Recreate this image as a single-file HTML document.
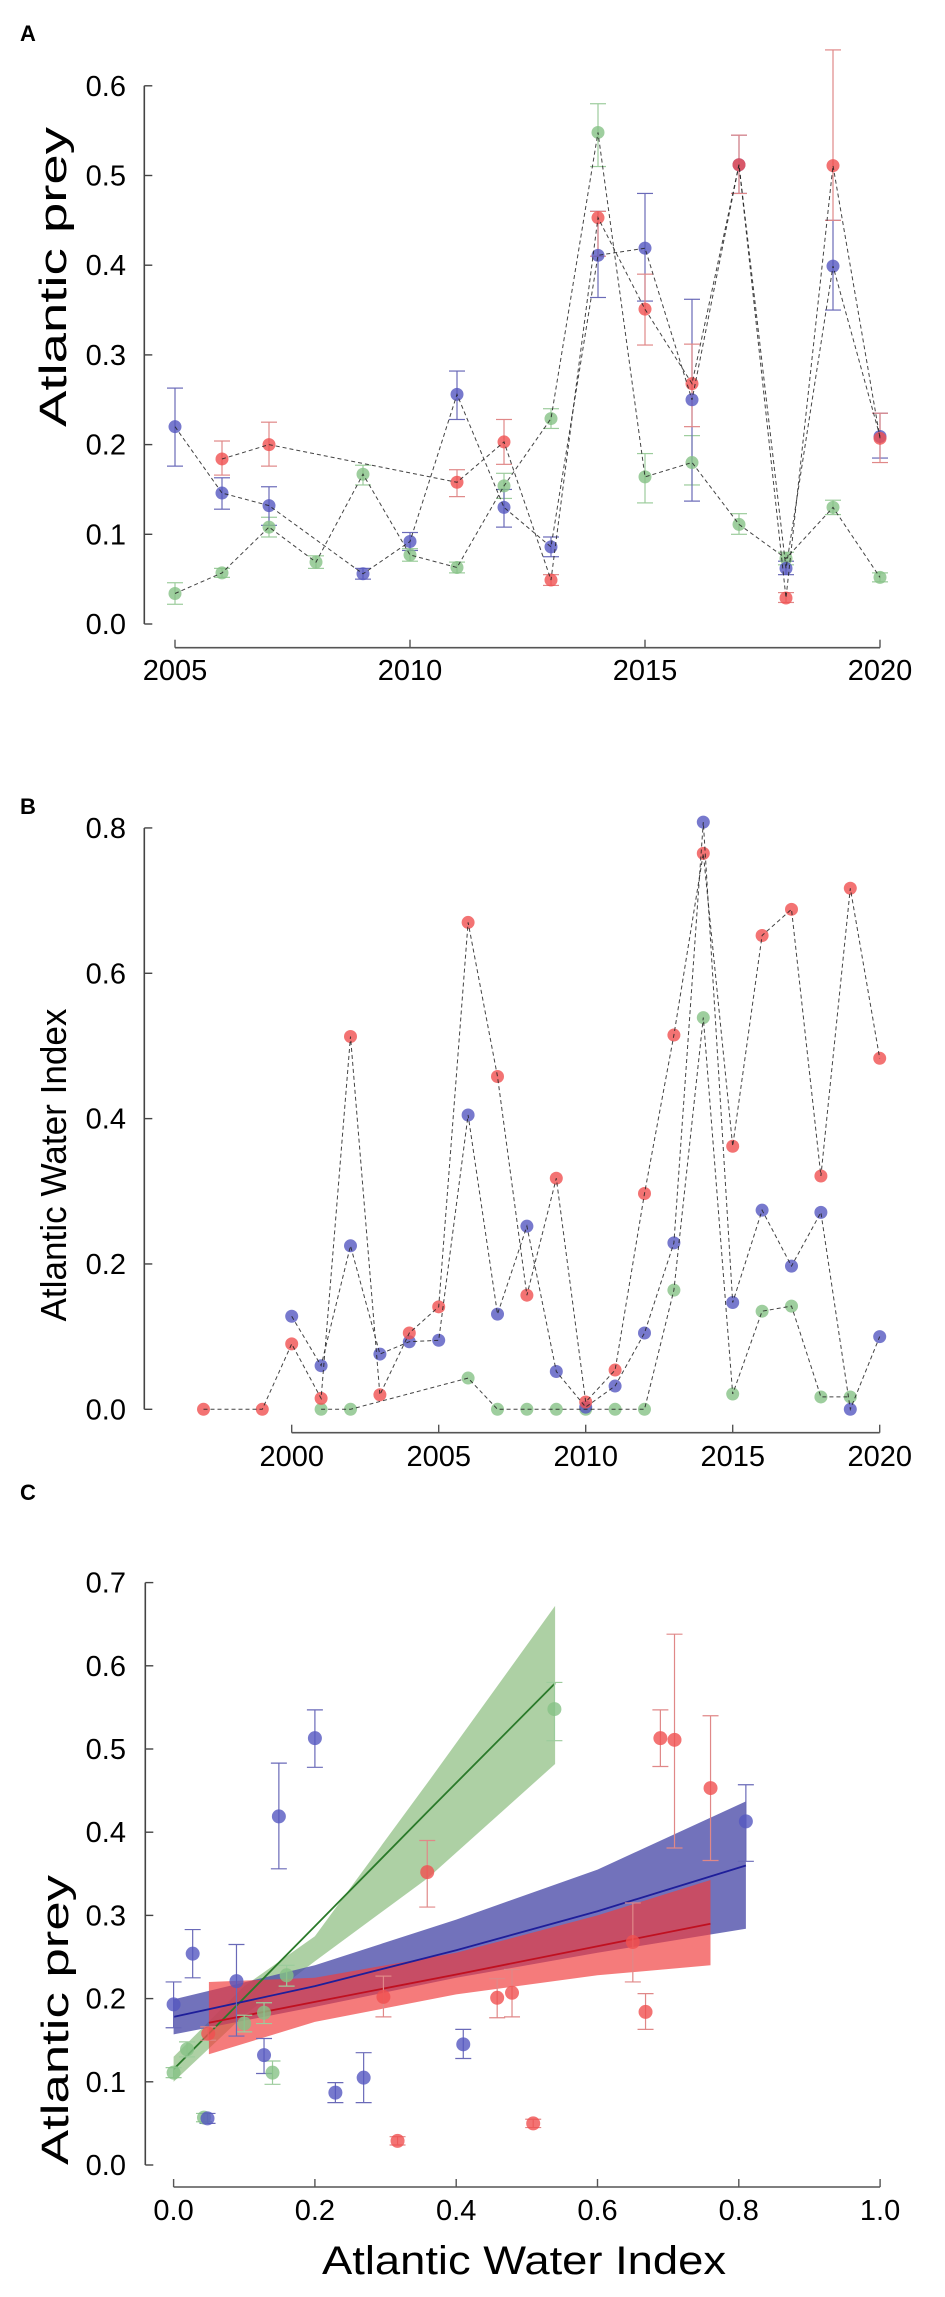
<!DOCTYPE html>
<html><head><meta charset="utf-8">
<style>
html,body{margin:0;padding:0;background:#fff;}
svg{display:block;font-family:"Liberation Sans",Arial,sans-serif;}
</style></head>
<body>
<svg id="fig" width="945" height="2297" viewBox="0 0 945 2297" xmlns="http://www.w3.org/2000/svg">
<text x="20" y="41" font-size="22" font-weight="bold">A</text>
<text x="20" y="814" font-size="22" font-weight="bold">B</text>
<text x="20" y="1500" font-size="22" font-weight="bold">C</text>
<text transform="translate(66,277) rotate(-90)" text-anchor="middle" font-size="38" textLength="300" lengthAdjust="spacingAndGlyphs">Atlantic prey</text>
<text transform="translate(66,1165) rotate(-90)" text-anchor="middle" font-size="36" textLength="313" lengthAdjust="spacingAndGlyphs">Atlantic Water Index</text>
<text transform="translate(68,2020) rotate(-90)" text-anchor="middle" font-size="38" textLength="290" lengthAdjust="spacingAndGlyphs">Atlantic prey</text>
<text x="524" y="2274" text-anchor="middle" font-size="40" textLength="404" lengthAdjust="spacingAndGlyphs">Atlantic Water Index</text>
</svg>
<script>
// ---------- Panel A data ----------
const aBlueYears=[2005,2006,2007,2009,2010,2011,2012,2013,2014,2015,2016,2017,2018,2019,2020];
const aBlueVals=[0.22,0.146,0.132,0.056,0.092,0.256,0.13,0.086,0.411,0.419,0.25,0.512,0.062,0.399,0.209];
const aBlueLo=[0.176,0.128,0.11,0.05,0.082,0.228,0.108,0.075,0.364,0.36,0.137,0.48,0.055,0.35,0.185];
const aBlueHi=[0.263,0.163,0.153,0.062,0.102,0.282,0.15,0.097,0.46,0.48,0.362,0.545,0.07,0.45,0.235];
const aRedYears=[2006,2007,2011,2012,2013,2014,2015,2016,2017,2018,2019,2020];
const aRedVals=[0.184,0.2,0.158,0.203,0.049,0.453,0.351,0.268,0.512,0.029,0.511,0.207];
const aRedLo=[0.166,0.176,0.142,0.178,0.043,0.41,0.311,0.22,0.48,0.024,0.45,0.18];
const aRedHi=[0.204,0.225,0.172,0.228,0.055,0.46,0.39,0.312,0.545,0.035,0.64,0.235];
const aGreenYears=[2005,2006,2007,2008,2009,2010,2011,2012,2013,2014,2015,2016,2017,2018,2019,2020];
const aGreenVals=[0.034,0.057,0.108,0.069,0.167,0.077,0.063,0.154,0.229,0.548,0.164,0.18,0.111,0.073,0.13,0.052];
const aGreenLo=[0.022,0.052,0.097,0.062,0.155,0.07,0.057,0.14,0.218,0.51,0.135,0.155,0.1,0.066,0.122,0.047];
const aGreenHi=[0.046,0.062,0.119,0.076,0.177,0.084,0.069,0.168,0.24,0.58,0.19,0.21,0.123,0.08,0.138,0.057];
const aYTicks=[0,0.1,0.2,0.3,0.4,0.5,0.6];
const aXTicks=[2005,2010,2015,2020];
// ---------- Panel B data ----------
const bRedYears=[1997,1999,2000,2001,2002,2003,2004,2005,2006,2007,2008,2009,2010,2011,2012,2013,2014,2015,2016,2017,2018,2019,2020];
const bRedVals=[0,0,0.09,0.015,0.513,0.02,0.105,0.141,0.67,0.458,0.157,0.318,0.01,0.054,0.297,0.515,0.765,0.362,0.652,0.688,0.321,0.717,0.483];
const bBlueYears=[2000,2001,2002,2003,2004,2005,2006,2007,2008,2009,2010,2011,2012,2013,2014,2015,2016,2017,2018,2019,2020];
const bBlueVals=[0.128,0.06,0.225,0.076,0.093,0.095,0.405,0.131,0.252,0.052,0.003,0.032,0.105,0.229,0.808,0.147,0.274,0.197,0.271,0.0,0.1];
const bGreenYears=[2001,2002,2006,2007,2008,2009,2010,2011,2012,2013,2014,2015,2016,2017,2018,2019];
const bGreenVals=[0,0,0.043,0,0,0,0,0,0,0.164,0.539,0.021,0.135,0.142,0.017,0.017];
const bYTicks=[0,0.2,0.4,0.6,0.8];
const bXTicks=[2000,2005,2010,2015,2020];
// ---------- Panel C data ----------
const cBlueX=[0,0.027,0.089,0.128,0.048,0.149,0.2,0.229,0.269,0.41,0.81];
const cBlueY=[0.193,0.254,0.221,0.132,0.056,0.419,0.513,0.087,0.105,0.145,0.413];
const cBlueLo=[0.165,0.225,0.155,0.11,0.05,0.356,0.478,0.075,0.075,0.128,0.365];
const cBlueHi=[0.22,0.283,0.265,0.152,0.062,0.483,0.547,0.099,0.135,0.163,0.457];
const cRedX=[0.049,0.297,0.458,0.479,0.668,0.317,0.509,0.359,0.65,0.689,0.709,0.76];
const cRedY=[0.158,0.202,0.201,0.207,0.184,0.029,0.05,0.352,0.268,0.513,0.511,0.453];
const cRedLo=[0.15,0.178,0.177,0.178,0.163,0.024,0.045,0.31,0.22,0.479,0.381,0.366];
const cRedHi=[0.166,0.227,0.224,0.235,0.206,0.034,0.055,0.39,0.315,0.547,0.638,0.54];
const cGreenX=[0,0.019,0.043,0.14,0.128,0.16,0.1,0.539];
const cGreenY=[0.111,0.139,0.057,0.111,0.183,0.228,0.17,0.548];
const cGreenLo=[0.105,0.13,0.052,0.097,0.17,0.215,0.16,0.51];
const cGreenHi=[0.117,0.148,0.062,0.125,0.195,0.24,0.18,0.58];
const cGreenFitX=[0,0.1,0.2,0.36,0.54];
const cGreenFit=[0.115,0.201,0.287,0.425,0.579];
const cGreenBandLo=[0.10,0.18,0.245,0.345,0.482];
const cGreenBandHi=[0.13,0.215,0.275,0.46,0.672];
const cBlueFitX=[0,0.2,0.4,0.6,0.81];
const cBlueFit=[0.178,0.215,0.258,0.305,0.36];
const cBlueBandLo=[0.157,0.19,0.225,0.255,0.284];
const cBlueBandHi=[0.199,0.24,0.295,0.355,0.437];
const cRedFitX=[0.05,0.2,0.4,0.6,0.76];
const cRedFit=[0.171,0.196,0.229,0.263,0.29];
const cRedBandLo=[0.133,0.172,0.205,0.228,0.24];
const cRedBandHi=[0.22,0.225,0.255,0.30,0.3425];
const cYTicks=[0,0.1,0.2,0.3,0.4,0.5,0.6,0.7];
const cXTicks=[0,0.2,0.4,0.6,0.8,1.0];

const NS="http://www.w3.org/2000/svg";
const svg=document.getElementById('fig');
function mk(tag,attrs,parent){const e=document.createElementNS(NS,tag);for(const k in attrs)e.setAttribute(k,attrs[k]);(parent||svg).appendChild(e);return e;}

const COL={blue:'#5558c0',red:'#f05050',green:'#86c286'};
const ERR={blue:'#6a6ab8',red:'#e08888',green:'#9ccc9c'};

// axis scales
const axA={x:y=>175+47*(y-2005),y:v=>624-897*v};
const axB={x:y=>291.7+29.4*(y-2000),y:v=>1409.3-726.7*v};
const axC={x:v=>173.6+706.5*v,y:v=>2165-832*v};

function drawYAxis(ax,ticks,x0,name,fmt){
  const g=mk('g',{});
  
  
  const y0=ax.y(ticks[0]),y1=ax.y(ticks[ticks.length-1]);
  mk('line',{x1:x0,y1:y0,x2:x0,y2:y1,stroke:'#444','stroke-width':1.6},g);
  ticks.forEach(t=>{
    mk('line',{x1:x0,y1:ax.y(t),x2:x0+8,y2:ax.y(t),stroke:'#444','stroke-width':1.4},g);
    const tx=mk('text',{x:126,y:ax.y(t)+10,'text-anchor':'end','font-size':29},g);
    
    
    tx.textContent=fmt(t);
  });
}
function drawXAxis(ax,ticks,y0,labelY,name,fmt){
  const g=mk('g',{});
  
  
  mk('line',{x1:ax.x(ticks[0]),y1:y0,x2:ax.x(ticks[ticks.length-1]),y2:y0,stroke:'#555','stroke-width':1.6},g);
  ticks.forEach(t=>{
    mk('line',{x1:ax.x(t),y1:y0,x2:ax.x(t),y2:y0-8,stroke:'#555','stroke-width':1.4},g);
    const tx=mk('text',{x:ax.x(t),y:labelY,'text-anchor':'middle','font-size':29},g);
    
    
    tx.textContent=fmt(t);
  });
}
function errorbars(ax,xs,lo,hi,color,name,r){
  const g=mk('g',{});
  
  
  xs.forEach((xv,i)=>{
    const x=ax.x(xv);
    mk('line',{x1:x,y1:ax.y(lo[i]),x2:x,y2:ax.y(hi[i]),stroke:color,'stroke-width':1.2},g);
    mk('line',{x1:x-8,y1:ax.y(lo[i]),x2:x+8,y2:ax.y(lo[i]),stroke:color,'stroke-width':1.2},g);
    mk('line',{x1:x-8,y1:ax.y(hi[i]),x2:x+8,y2:ax.y(hi[i]),stroke:color,'stroke-width':1.2},g);
  });
}
function points(ax,xs,ys,color,name,r){
  const g=mk('g',{});
  
  
  xs.forEach((xv,i)=>{
    const c=mk('circle',{cx:ax.x(xv),cy:ax.y(ys[i]),r:r,fill:color,'fill-opacity':0.8},g);
    
    
  });
}
function dashline(ax,xs,ys,name){
  const d=xs.map((xv,i)=>(i?'L':'M')+ax.x(xv).toFixed(1)+','+ax.y(ys[i]).toFixed(1)).join(' ');
  const p=mk('path',{d:d,fill:'none',stroke:'#222','stroke-opacity':0.85,'stroke-width':1,'stroke-dasharray':'4 3'});
  
  
}
function band(ax,xs,lo,hi,color,op,name){
  let d='M'+xs.map((xv,i)=>ax.x(xv).toFixed(1)+','+ax.y(hi[i]).toFixed(1)).join(' L');
  for(let i=xs.length-1;i>=0;i--) d+=' L'+ax.x(xs[i]).toFixed(1)+','+ax.y(lo[i]).toFixed(1);
  d+='Z';
  const p=mk('path',{d:d,fill:color,'fill-opacity':op,stroke:'none'});
  
  
}
function fitline(ax,xs,ys,color,name){
  const d=xs.map((xv,i)=>(i?'L':'M')+ax.x(xv).toFixed(1)+','+ax.y(ys[i]).toFixed(1)).join(' ');
  const p=mk('path',{d:d,fill:'none',stroke:color,'stroke-width':1.8});
  
  
}

// ---- Panel A ----
drawYAxis(axA,aYTicks,144.3,'panel-a-y-axis',t=>t.toFixed(1));
drawXAxis(axA,aXTicks,647.7,680,'panel-a-x-axis',t=>String(t));
errorbars(axA,aGreenYears,aGreenLo,aGreenHi,ERR.green,'panel-a-green-errorbars');
errorbars(axA,aBlueYears,aBlueLo,aBlueHi,ERR.blue,'panel-a-blue-errorbars');
errorbars(axA,aRedYears,aRedLo,aRedHi,ERR.red,'panel-a-red-errorbars');
points(axA,aGreenYears,aGreenVals,COL.green,'panel-a-green-points',6.5);
points(axA,aBlueYears,aBlueVals,COL.blue,'panel-a-blue-points',6.5);
points(axA,aRedYears,aRedVals,COL.red,'panel-a-red-points',6.5);
dashline(axA,aGreenYears,aGreenVals,'panel-a-green-line');
dashline(axA,aBlueYears,aBlueVals,'panel-a-blue-line');
dashline(axA,aRedYears,aRedVals,'panel-a-red-line');

// ---- Panel B ----
drawYAxis(axB,bYTicks,144.3,'panel-b-y-axis',t=>t.toFixed(1));
drawXAxis(axB,bXTicks,1432.7,1466,'panel-b-x-axis',t=>String(t));
points(axB,bGreenYears,bGreenVals,COL.green,'panel-b-green-points',6.5);
points(axB,bBlueYears,bBlueVals,COL.blue,'panel-b-blue-points',6.5);
points(axB,bRedYears,bRedVals,COL.red,'panel-b-red-points',6.5);
dashline(axB,bGreenYears,bGreenVals,'panel-b-green-line');
dashline(axB,bBlueYears,bBlueVals,'panel-b-blue-line');
dashline(axB,bRedYears,bRedVals,'panel-b-red-line');

// ---- Panel C ----
drawYAxis(axC,cYTicks,145.3,'panel-c-y-axis',t=>t.toFixed(1));
drawXAxis(axC,cXTicks,2187,2220,'panel-c-x-axis',t=>t.toFixed(1));
band(axC,cGreenFitX,cGreenBandLo,cGreenBandHi,'#6aaa5a',0.55,'panel-c-green-ci-band');
band(axC,cBlueFitX,cBlueBandLo,cBlueBandHi,'#4a4aa8',0.78,'panel-c-blue-ci-band');
band(axC,cRedFitX,cRedBandLo,cRedBandHi,'#f03c3c',0.68,'panel-c-red-ci-band');
fitline(axC,cGreenFitX,cGreenFit,'#2a7a2a','panel-c-green-fit');
fitline(axC,cBlueFitX,cBlueFit,'#1e1e9a','panel-c-blue-fit');
fitline(axC,cRedFitX,cRedFit,'#c01020','panel-c-red-fit');
errorbars(axC,cGreenX,cGreenLo,cGreenHi,ERR.green,'panel-c-green-errorbars');
errorbars(axC,cBlueX,cBlueLo,cBlueHi,ERR.blue,'panel-c-blue-errorbars');
errorbars(axC,cRedX,cRedLo,cRedHi,ERR.red,'panel-c-red-errorbars');
points(axC,cGreenX,cGreenY,COL.green,'panel-c-green-points',7);
points(axC,cBlueX,cBlueY,COL.blue,'panel-c-blue-points',7);
points(axC,cRedX,cRedY,COL.red,'panel-c-red-points',7);
</script>
</body></html>
